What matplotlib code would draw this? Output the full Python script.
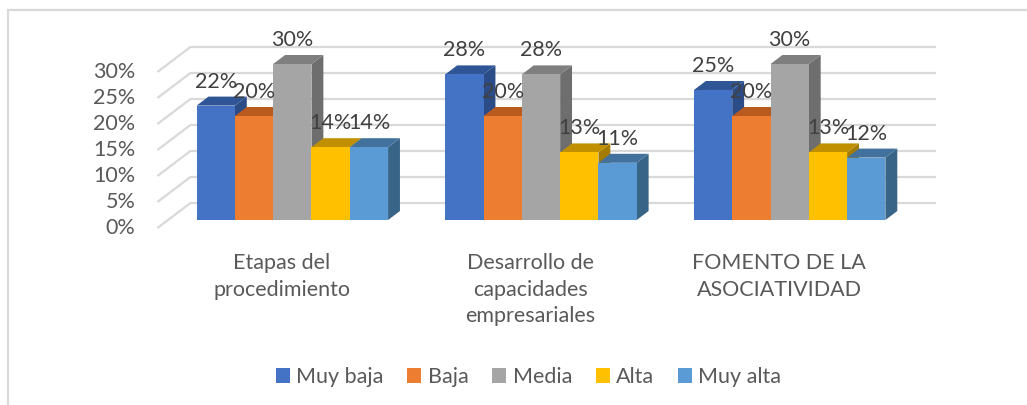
import matplotlib
matplotlib.use("Agg")
import matplotlib.pyplot as plt
from matplotlib.patches import Polygon, Rectangle, Patch

# ---------------- data ----------------
categories = ["Etapas del\nprocedimiento",
              "Desarrollo de\ncapacidades\nempresariales",
              "FOMENTO DE LA\nASOCIATIVIDAD"]
series_names = ["Muy baja", "Baja", "Media", "Alta", "Muy alta"]
muy_baja = [22, 28, 25]
baja = [20, 20, 20]
media = [30, 28, 30]
alta = [14, 13, 13]
muy_alta = [14, 11, 12]
series_values = [muy_baja, baja, media, alta, muy_alta]
ytick_values = [0, 5, 10, 15, 20, 25, 30]
ytick_labels = ["0%", "5%", "10%", "15%", "20%", "25%", "30%"]

# ---------------- styles ----------------
front_cols = ["#4472C4", "#ED7D31", "#A5A5A5", "#FFC000", "#5B9BD5"]
top_cols = ["#2F5597", "#B95B1E", "#7F7F7F", "#C09000", "#41719C"]
side_cols = ["#2B4C86", "#A35018", "#6E6E6E", "#A67C00", "#386487"]
FONT = "Lato"
FS = 15.5
TXT = "#595959"
GRID = "#D9D9D9"

W, H = 1027, 405
fig = plt.figure(figsize=(W / 100, H / 100), dpi=100)
fig.patch.set_facecolor("white")

# chart frame
fig.patches.append(Rectangle((8 / W, -0.2), 1.2, 1.2 - 10 / H,
                             transform=fig.transFigure, fill=False,
                             edgecolor=GRID, lw=1.6, zorder=0))

ax_left, ax_right = 168, 914
base_px, px_per_pct = 220, 5.2
ymax = 30
ax = fig.add_axes([ax_left / W, (H - base_px) / H,
                   (ax_right - ax_left) / W, ymax * px_per_pct / H])
ax.set_xlim(-0.5, 2.5)
ax.set_ylim(0, ymax)
ax.axis("off")

dx_unit = 3.0 / (ax_right - ax_left)   # data x per pixel
dy_unit = 1.0 / px_per_pct             # data y per pixel
SLANT = 1.32


def off(x, y, z):
    """shift a front-plane point by depth z (pixels)"""
    return (x + SLANT * z * dx_unit, y + z * dy_unit)


Z_FLOOR_FRONT, Z_BACK, BAR_DEPTH = -8, 17, 9

# back wall & side wall gridlines
for v, lab in zip(ytick_values, ytick_labels):
    p0 = off(-0.5, v, Z_BACK)
    p1 = off(2.5, v, Z_BACK)
    ax.plot([p0[0], p1[0]], [p0[1], p1[1]], color=GRID, lw=1.6,
            clip_on=False, zorder=1, solid_capstyle="butt")
    q0 = off(-0.5, v, Z_FLOOR_FRONT)
    ax.plot([q0[0], p0[0]], [q0[1], p0[1]], color=GRID, lw=1.6,
            clip_on=False, zorder=1, solid_capstyle="butt")
    ax.annotate(lab, xy=q0, xytext=(-22, 0), textcoords="offset pixels",
                ha="right", va="center", fontsize=FS, family=FONT,
                color=TXT, annotation_clip=False)

# bars
n = len(series_names)
group_w = 0.77
bw = group_w / n
xs = list(range(len(categories)))
for j, (vals, name) in enumerate(zip(series_values, series_names)):
    lefts = [x - group_w / 2 + j * bw for x in xs]
    bars = ax.bar(lefts, vals, width=bw, align="edge", color=front_cols[j],
                  zorder=10 + 3 * j + 2, clip_on=False, linewidth=0)
    for rect, v in zip(bars, vals):
        x0 = rect.get_x()
        x1 = x0 + rect.get_width()
        h = rect.get_height()
        top = [(x0, h), (x1, h), off(x1, h, BAR_DEPTH), off(x0, h, BAR_DEPTH)]
        side = [(x1, 0), (x1, h), off(x1, h, BAR_DEPTH), off(x1, 0, BAR_DEPTH)]
        ax.add_patch(Polygon(side, closed=True, facecolor=side_cols[j],
                             edgecolor="none", zorder=10 + 3 * j,
                             clip_on=False))
        ax.add_patch(Polygon(top, closed=True, facecolor=top_cols[j],
                             edgecolor="none", zorder=10 + 3 * j + 1,
                             clip_on=False))
        ax.annotate(f"{v}%", xy=((x0 + x1) / 2, h), xytext=(0, 24),
                    textcoords="offset pixels", ha="center", va="center",
                    fontsize=FS, family=FONT, color="#404040",
                    zorder=100, annotation_clip=False)

# category labels
for x, lab in zip(xs, categories):
    p = off(x, 0, Z_FLOOR_FRONT)
    ax.annotate(lab, xy=p, xytext=(0, -(253 - (base_px + 8))),
                textcoords="offset pixels", ha="center", va="top",
                fontsize=FS, family=FONT, color=TXT, linespacing=1.42,
                annotation_clip=False)

# legend
handles = [Patch(facecolor=c, edgecolor="none") for c in front_cols]
fig.legend(handles, series_names, loc="center", ncol=5,
           bbox_to_anchor=(528.5 / W, 1 - 377 / H), frameon=False,
           prop={"family": FONT, "size": FS}, labelcolor=TXT,
           handlelength=0.65, handleheight=0.65, handletextpad=0.3,
           columnspacing=1.1, borderaxespad=0, borderpad=0)

fig.savefig("out.png", dpi=100, facecolor="white")
